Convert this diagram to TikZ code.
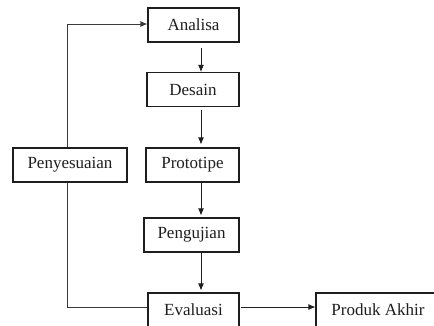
\documentclass[tikz,border=0pt]{standalone}
\usepackage{fontspec}
\setmainfont{Liberation Serif}
\usetikzlibrary{arrows.meta}
\definecolor{Dark}{HTML}{1E1E1E}
\definecolor{Line}{HTML}{3A3A3A}
\tikzset{
    stepbox/.style={rectangle, draw=Dark, line width=1.1pt, fill=white, text=Dark, align=center, minimum height=34pt, inner sep=0pt, font=\fontsize{17}{19}\selectfont},
    arrow/.style={-{Latex[length=7pt,width=6pt]}, line width=0.9pt, color=Dark},
    link/.style={line width=0.9pt, color=Line},
}

\begin{document}
\begin{tikzpicture}[x=1pt, y=-1pt]
    \useasboundingbox (0,0) rectangle (434,325);
    % Tahapan utama
    \node[stepbox, minimum width=91pt] (analisa) at (193.5, 25) {Analisa};
    \node[stepbox, minimum width=92pt] (desain) at (193, 89.5) {Desain};
    \node[stepbox, minimum width=93pt] (prototipe) at (192.5, 165) {Prototipe};
    \node[stepbox, minimum width=95pt] (pengujian) at (191.5, 235) {Pengujian};
    \node[stepbox, minimum width=91pt] (evaluasi) at (193.5, 310) {Evaluasi};
    \coordinate (alur) at (201, 0);
    
    % Keluaran dan umpan balik
    \node[stepbox, minimum width=124pt] (produk) at (378, 310) {Produk Akhir};
    \node[stepbox, minimum width=114pt] (penyesuaian) at (70, 165) {Penyesuaian};
    
    % Alur ke bawah
    \draw[arrow, shorten <=5pt] (analisa.south -| alur) -- (desain.north -| alur);
    \draw[arrow, shorten <=3pt, shorten >=3pt] (desain.south -| alur) -- (prototipe.north -| alur);
    \draw[arrow, shorten >=2pt] (prototipe.south -| alur) -- (pengujian.north -| alur);
    \draw[arrow, shorten >=2pt] (pengujian.south -| alur) -- (evaluasi.north -| alur);
    \draw[arrow, shorten <=1pt] ([yshift=3pt]evaluasi.east) -- ([yshift=3pt]produk.west);
    
    % Umpan balik
    \draw[link] ([xshift=-3pt]penyesuaian.south) |- ([yshift=3pt]evaluasi.west);
    \draw[link, -{Latex[length=7pt,width=6pt]}] ([xshift=-3pt]penyesuaian.north) |- ([yshift=1pt]analisa.west);
\end{tikzpicture}
\end{document}
